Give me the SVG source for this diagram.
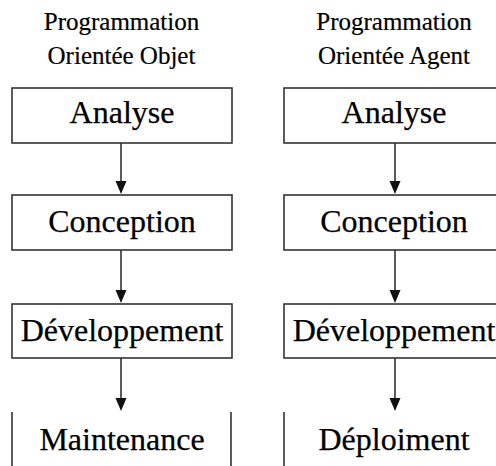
<svg xmlns="http://www.w3.org/2000/svg" width="496" height="466" viewBox="0 0 496 466">
<style>
.box{fill:#fff;stroke:#333;stroke-width:1.6}
.side{stroke:#333;stroke-width:1.6;fill:none}
.lbl{font-family:'Liberation Serif','Times New Roman',Times,serif;font-size:32px;fill:#000;stroke:#000;stroke-width:0.25;text-anchor:middle}
.ttl{font-family:'Liberation Serif','Times New Roman',Times,serif;font-size:25px;fill:#000;stroke:#000;stroke-width:0.2;text-anchor:middle}
.head{fill:#111}
</style>
<rect width="496" height="466" fill="#fff"/>
<g id="title-objet">
<text class="ttl" x="121.5" y="30">Programmation</text>
<text class="ttl" x="121.5" y="64">Orientée Objet</text>
</g>
<g id="title-agent">
<text class="ttl" x="394" y="30">Programmation</text>
<text class="ttl" x="394" y="64">Orientée Agent</text>
</g>
<g id="o-analyse"><rect class="box" x="12" y="88" width="220" height="55"/><text class="lbl" x="122" y="123">Analyse</text></g>
<g id="o-conception"><rect class="box" x="12" y="195" width="220" height="55"/><text class="lbl" x="122" y="232">Conception</text></g>
<g id="o-developpement"><rect class="box" x="12" y="304" width="220" height="54"/><text class="lbl" x="122" y="341">Développement</text></g>
<g id="o-maintenance"><path class="side" d="M12,412 V466 M231,412 V466"/><text class="lbl" x="122" y="450">Maintenance</text></g>
<g id="a-analyse"><rect class="box" x="284" y="88" width="222" height="55"/><text class="lbl" x="394" y="123">Analyse</text></g>
<g id="a-conception"><rect class="box" x="284" y="195" width="222" height="55"/><text class="lbl" x="394" y="232">Conception</text></g>
<g id="a-developpement"><rect class="box" x="284" y="304" width="222" height="54"/><text class="lbl" x="394" y="341">Développement</text></g>
<g id="a-deploiment"><path class="side" d="M284,412 V466"/><text class="lbl" x="394" y="450">Déploiment</text></g>
<g id="connectors">
<path d="M121,143 V182" class="side"/><path class="head" d="M115.5,181 L126.5,181 L121,194 Z"/>
<path d="M121,250 V291" class="side"/><path class="head" d="M115.5,290 L126.5,290 L121,303 Z"/>
<path d="M121,358 V399" class="side"/><path class="head" d="M115.5,398 L126.5,398 L121,411 Z"/>
<path d="M395,143 V182" class="side"/><path class="head" d="M389.5,181 L400.5,181 L395,194 Z"/>
<path d="M395,250 V291" class="side"/><path class="head" d="M389.5,290 L400.5,290 L395,303 Z"/>
<path d="M395,358 V399" class="side"/><path class="head" d="M389.5,398 L400.5,398 L395,411 Z"/>
</g>
</svg>
